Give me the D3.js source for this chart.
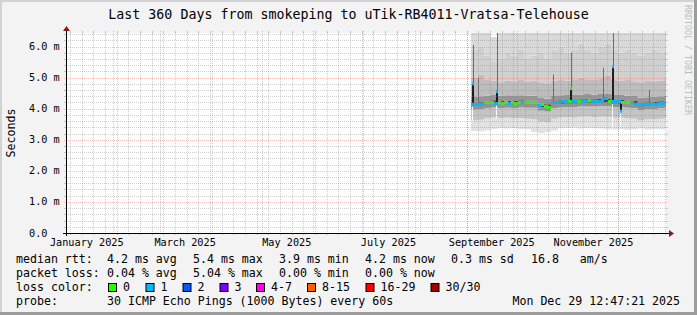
<!DOCTYPE html>
<html>
<head>
<meta charset="utf-8">
<script src="https://cdn.jsdelivr.net/npm/d3@7"></script>
<style>
  html, body { margin: 0; padding: 0; background: #f3f3f3; }
  svg { display: block; }
  text { font-family: "DejaVu Sans Mono", monospace; fill: #000; }
</style>
</head>
<body>
<div id="container"></div>
<script>

// ---- dados ----
var endTime = new Date(2025, 11, 29, 12, 47, 21)
var titleText = "Last 360 Days from smokeping to uTik-RB4011-Vratsa-Telehouse"
var yTicks = [0, 1, 2, 3, 4, 5, 6]
var xLabelMonths = [new Date(2025, 0, 1), new Date(2025, 2, 1), new Date(2025, 4, 1),
                    new Date(2025, 6, 1), new Date(2025, 8, 1), new Date(2025, 10, 1)]

// median rtt (ms), one value every 2 days starting Sep 3
var medianStart = new Date(2025, 8, 3, 14)
var medianMs = [4.14, 4.14, 4.15, 4.15, 4.19, 4.20, 4.21, 4.18, 4.19, 4.17,
                4.20, 4.18, 4.19, 4.18, 4.20, 4.21, 4.20, 4.20, 4.19, 4.20,
                4.10, 4.12, 4.08, 4.05, 4.19, 4.21, 4.21, 4.22, 4.22, 4.23,
                4.22, 4.23, 4.24, 4.23, 4.24, 4.25, 4.23, 4.24, 4.24, 4.25,
                4.33, 4.24, 4.22, 4.23, 4.22, 4.21, 4.20, 4.20, 4.19, 4.13,
                4.12, 4.13, 4.15, 4.14, 4.16, 4.15, 4.17, 4.18, 4.20]
// lost pings per sample (0 -> green, 1 -> light blue)
var medianLoss = [1, 1, 1, 1, 0, 0, 0, 1, 0, 0,
                  0, 1, 0, 0, 0, 1, 0, 0, 0, 0,
                  1, 0, 0, 0, 1, 1, 1, 1, 1, 0,
                  1, 1, 0, 1, 1, 0, 1, 1, 1, 1,
                  1, 0, 1, 1, 1, 0, 0, 0, 1, 1,
                  1, 1, 1, 1, 1, 1, 1, 1, 1]

// smoke: sorted ping values (ms) by rank, one column every 4 days starting Sep 3
var smokeStart = new Date(2025, 8, 3, 14)
var smokeRanks = [1, 3, 8, 13, 18, 23, 27, 29, 30]
var ping01 = [3.28, 3.27, 3.30, 3.35, 3.37, 3.36, 3.38, 3.35, 3.34, 3.25, 3.22, 3.24, 3.30, 3.37, 3.38,
              3.39, 3.36, 3.38, 3.37, 3.36, 3.34, 3.33, 3.35, 3.32, 3.34, 3.36, 3.33, 3.35, 3.34, 3.36]
var ping03 = [3.62, 3.64, 3.70, 3.72, 3.70, 3.71, 3.69, 3.70, 3.68, 3.66, 3.58, 3.56, 3.68, 3.72, 3.73,
              3.72, 3.74, 3.75, 3.73, 3.74, 3.74, 3.71, 3.72, 3.70, 3.68, 3.62, 3.66, 3.67, 3.68, 3.70]
var ping08 = [3.97, 3.98, 4.02, 4.04, 4.02, 4.03, 4.02, 4.04, 4.03, 4.03, 3.93, 3.91, 4.02, 4.04, 4.05,
              4.05, 4.07, 4.07, 4.07, 4.08, 4.08, 4.05, 4.05, 4.03, 4.02, 3.95, 3.98, 3.99, 4.01, 4.03]
var ping13 = [4.09, 4.10, 4.14, 4.16, 4.14, 4.15, 4.14, 4.16, 4.15, 4.15, 4.05, 4.03, 4.14, 4.16, 4.17,
              4.17, 4.19, 4.19, 4.19, 4.20, 4.20, 4.17, 4.17, 4.15, 4.14, 4.07, 4.10, 4.11, 4.13, 4.15]
var ping18 = [4.20, 4.21, 4.25, 4.27, 4.25, 4.26, 4.25, 4.27, 4.26, 4.26, 4.16, 4.14, 4.25, 4.27, 4.28,
              4.28, 4.30, 4.30, 4.30, 4.31, 4.31, 4.28, 4.28, 4.26, 4.25, 4.18, 4.21, 4.22, 4.24, 4.26]
var ping23 = [4.38, 4.40, 4.42, 4.44, 4.42, 4.43, 4.41, 4.43, 4.42, 4.42, 4.34, 4.32, 4.41, 4.43, 4.44,
              4.44, 4.46, 4.47, 4.46, 4.47, 4.47, 4.44, 4.44, 4.42, 4.41, 4.35, 4.37, 4.38, 4.40, 4.42]
var ping27 = [5.00, 5.10, 4.95, 4.90, 4.85, 4.90, 4.88, 4.92, 4.86, 4.90, 4.85, 4.82, 4.90, 4.95, 4.90,
              4.95, 5.00, 4.95, 4.92, 4.98, 5.05, 4.95, 4.90, 4.92, 4.88, 4.85, 4.90, 4.88, 4.90, 4.92]
var ping29 = [5.90, 6.00, 5.70, 5.50, 5.60, 5.80, 5.70, 5.90, 5.60, 5.70, 5.80, 5.60, 5.90, 6.00, 5.80,
              5.90, 6.10, 5.90, 5.80, 6.00, 6.10, 5.90, 5.80, 5.90, 5.80, 5.70, 5.80, 5.90, 5.80, 5.90]
var ping30 = [6.60, 6.60, 6.60, 6.30, 6.60, 6.60, 6.60, 6.60, 6.60, 6.60, 6.60, 6.60, 6.60, 6.60, 6.60,
              6.60, 6.60, 6.60, 6.60, 6.60, 6.60, 6.60, 6.60, 6.60, 6.60, 6.60, 6.60, 6.60, 6.60, 6.60]

// single-column outliers
var spikeDates = [new Date(2025, 8, 4, 10), new Date(2025, 8, 7, 2), new Date(2025, 8, 18, 12),
                  new Date(2025, 9, 21, 22), new Date(2025, 10, 1, 19), new Date(2025, 10, 21, 7),
                  new Date(2025, 10, 26, 22), new Date(2025, 11, 2, 5), new Date(2025, 11, 19, 0)]
var spikeTop    = [6.05, 5.00, 6.50, 5.10, 5.80, 5.32, 6.50, null, 4.60]
var spikeMedian = [4.80, null, 4.55, null, 4.65, null, 5.35, 3.92, null]
var spikeLoss   = [1, null, 1, null, 0, null, 1, 1, null]
var spikeGapLow = [3.60, null, 3.70, null, null, null, 3.35, 3.38, null]

// legenda
var lossLabels = ["0", "1", "2", "3", "4-7", "8-15", "16-29", "30/30"]
var lossColors = ["#26ff00", "#00b8ff", "#0059ff", "#7e00ff", "#ff00ea", "#ff5e00", "#ff0000", "#a10000"]
var statRtt  = ["4.2 ms avg", "5.4 ms max", "3.9 ms min", "4.2 ms now", "0.3 ms sd", "16.8   am/s"]
var statLoss = ["0.04 % avg", "5.04 % max", "0.00 % min", "0.00 % now"]
var probeText = "30 ICMP Echo Pings (1000 Bytes) every 60s"
var stampText = "Mon Dec 29 12:47:21 2025"

// ---- layout ----
var W = 697, H = 315
var x0 = 66, x1 = 666, y0 = 233, y1 = 33

var svg = d3.select("#container").append("svg")
  .attr("width", W).attr("height", H)

// fundo e moldura
svg.append("rect").attr("width", W).attr("height", H).attr("fill", "#f3f3f3")
svg.append("rect").attr("x", 0).attr("y", 0).attr("width", W).attr("height", 2).attr("fill", "#d2d2d2")
svg.append("rect").attr("x", 0).attr("y", 0).attr("width", 2).attr("height", H).attr("fill", "#d2d2d2")
svg.append("rect").attr("x", W - 3).attr("y", 0).attr("width", 3).attr("height", H).attr("fill", "#9c9c9c")
svg.append("rect").attr("x", 0).attr("y", H - 3).attr("width", W).attr("height", 3).attr("fill", "#9c9c9c")

// escalas
var xScale = d3.scaleTime()
  .domain([d3.timeDay.offset(endTime, -360), endTime])
  .range([x0, x1])

var yScale = d3.scaleLinear()
  .domain([0, (y0 - y1) / 31.08])
  .range([y0, y1])

svg.append("rect")
  .attr("x", x0).attr("y", y1).attr("width", x1 - x0).attr("height", y0 - y1)
  .attr("fill", "#ffffff")

svg.append("clipPath").attr("id", "plot-clip")
  .append("rect").attr("x", x0).attr("y", y1).attr("width", x1 - x0).attr("height", y0 - y1)

var plot = svg.append("g").attr("clip-path", "url(#plot-clip)")

// ---- smoke ----
var pingCols = [ping01, ping03, ping08, ping13, ping18, ping23, ping27, ping29, ping30]
// cinza de cada faixa, do mais baixo ao mais alto
var bandGreys = ["#e2e2e2", "#c4c4c4", "#939393", "#474747", "#969696", "#bdbdbd", "#d0d0d0", "#d9d9d9"]

var smokeRows = ping01.map(function(d, j) {
  return { date: d3.timeDay.offset(smokeStart, 4 * j), vals: pingCols.map(function(c) { return c[j] }) }
})
smokeRows.push({ date: d3.timeDay.offset(smokeStart, 4 * ping01.length), vals: smokeRows[smokeRows.length - 1].vals })

for (var k = 0; k < smokeRanks.length - 1; k++) {
  var area = d3.area()
    .curve(d3.curveStepAfter)
    .x(function(d) { return xScale(d.date) })
    .y0((function(kk) { return function(d) { return yScale(d.vals[kk]) } })(k))
    .y1((function(kk) { return function(d) { return yScale(d.vals[kk + 1]) } })(k))
  plot.append("path")
    .datum(smokeRows)
    .attr("d", area)
    .attr("fill", bandGreys[k])
}

// ---- outliers ----
function medianAt(dt) {
  var i = Math.floor((dt - medianStart) / (2 * 864e5))
  i = Math.max(0, Math.min(medianMs.length - 1, i))
  return medianMs[i]
}

spikeDates.forEach(function(dt, i) {
  var sx = Math.round(xScale(dt))
  var base = medianAt(dt)
  if (spikeTop[i] != null) {
    plot.append("rect")
      .attr("x", sx + 1).attr("width", 1)
      .attr("y", yScale(spikeTop[i])).attr("height", yScale(base) - yScale(spikeTop[i]))
      .attr("fill", "#6e6e6e")
  }
  if (spikeGapLow[i] != null) {
    var gTop = Math.min(base, spikeMedian[i] || base) - 0.08
    plot.append("rect")
      .attr("x", sx).attr("width", 1)
      .attr("y", yScale(gTop))
      .attr("height", yScale(spikeGapLow[i]) - yScale(gTop))
      .attr("fill", "#ffffff")
  }
  if (spikeMedian[i] != null) {
    var a = Math.max(base, spikeMedian[i]), b = Math.min(base, spikeMedian[i])
    plot.append("rect")
      .attr("x", sx).attr("width", 2)
      .attr("y", yScale(a)).attr("height", yScale(b) - yScale(a))
      .attr("fill", "#1c1c1c")
  }
})

// ---- median (blocos coloridos pela perda) ----
plot.selectAll(".median")
  .data(medianMs)
  .enter().append("rect")
  .attr("class", "median")
  .attr("x", function(d, i) { return xScale(d3.timeDay.offset(medianStart, 2 * i)) })
  .attr("width", function(d, i) {
    return xScale(d3.timeDay.offset(medianStart, 2 * i + 2)) - xScale(d3.timeDay.offset(medianStart, 2 * i))
  })
  .attr("y", function(d) { return yScale(d) - 1.5 })
  .attr("height", 3)
  .attr("fill", function(d, i) { return lossColors[medianLoss[i]] })
  .attr("shape-rendering", "crispEdges")

spikeDates.forEach(function(dt, i) {
  if (spikeMedian[i] == null) return
  plot.append("rect")
    .attr("x", Math.round(xScale(dt))).attr("width", 2)
    .attr("y", yScale(spikeMedian[i]) - 1.5).attr("height", 3)
    .attr("fill", lossColors[spikeLoss[i]])
})

// ---- grade ----
var minorCol = "rgba(128,128,128,0.38)", majorCol = "rgba(230,60,60,0.32)"
var grid = svg.append("g")
var minorY = d3.range(0, 6.45, 0.2).filter(function(v) { return Math.abs(v - Math.round(v)) > 0.01 })
grid.selectAll(".ygrid-minor").data(minorY).enter().append("line")
  .attr("x1", x0).attr("x2", x1)
  .attr("y1", function(d) { return Math.round(yScale(d)) + 0.5 })
  .attr("y2", function(d) { return Math.round(yScale(d)) + 0.5 })
  .attr("stroke", minorCol).attr("stroke-dasharray", "1,1")

var minorX = d3.timeMonday.range(xScale.domain()[0], endTime)
grid.selectAll(".xgrid-minor").data(minorX).enter().append("line")
  .attr("x1", function(d) { return Math.round(xScale(d)) + 0.5 })
  .attr("x2", function(d) { return Math.round(xScale(d)) + 0.5 })
  .attr("y1", y1).attr("y2", y0)
  .attr("stroke", minorCol).attr("stroke-dasharray", "1,1")

// marcas curtas nas bordas
minorX.forEach(function(d) {
  var gx = Math.round(xScale(d)) + 0.5
  grid.append("line").attr("x1", gx).attr("x2", gx).attr("y1", y1 - 2).attr("y2", y1 + 1).attr("stroke", "#c4c4c4")
  grid.append("line").attr("x1", gx).attr("x2", gx).attr("y1", y0).attr("y2", y0 + 2).attr("stroke", "#c4c4c4")
})
minorY.forEach(function(d) {
  var gy = Math.round(yScale(d)) + 0.5
  grid.append("line").attr("x1", x0 - 2).attr("x2", x0).attr("y1", gy).attr("y2", gy).attr("stroke", "#c4c4c4")
  grid.append("line").attr("x1", x1).attr("x2", x1 + 2).attr("y1", gy).attr("y2", gy).attr("stroke", "#c4c4c4")
})

var majorX = d3.timeMonth.range(xScale.domain()[0], endTime)
grid.selectAll(".xgrid-major").data(majorX).enter().append("line")
  .attr("x1", function(d) { return Math.round(xScale(d)) + 0.5 })
  .attr("x2", function(d) { return Math.round(xScale(d)) + 0.5 })
  .attr("y1", y1 - 2).attr("y2", y0 + 2)
  .attr("stroke", majorCol).attr("stroke-dasharray", "1,1")

grid.selectAll(".ygrid-major").data(yTicks.slice(1)).enter().append("line")
  .attr("x1", x0 - 2).attr("x2", x1 + 2)
  .attr("y1", function(d) { return Math.round(yScale(d)) + 0.5 })
  .attr("y2", function(d) { return Math.round(yScale(d)) + 0.5 })
  .attr("stroke", majorCol).attr("stroke-dasharray", "1,1")

// ---- eixos ----
svg.append("line").attr("x1", x0 - 3).attr("x2", x1 + 4).attr("y1", y0 + 0.5).attr("y2", y0 + 0.5)
  .attr("stroke", "#000")
svg.append("line").attr("x1", x0 + 0.5).attr("x2", x0 + 0.5).attr("y1", y0 + 3).attr("y2", y1 - 3)
  .attr("stroke", "#000")
svg.append("path").attr("d", "M" + (x1 + 3) + "," + (y0 - 3) + "L" + (x1 + 8) + "," + (y0 + 0.5) + "L" + (x1 + 3) + "," + (y0 + 4) + "Z")
  .attr("fill", "#8b1a1a")
svg.append("path").attr("d", "M" + (x0 - 3) + "," + (y1 - 2) + "L" + (x0 + 0.5) + "," + (y1 - 7) + "L" + (x0 + 4) + "," + (y1 - 2) + "Z")
  .attr("fill", "#8b1a1a")

// rótulos Y
svg.selectAll(".ylab").data(yTicks).enter().append("text")
  .attr("x", 29)
  .attr("y", function(d) { return yScale(d) + 3.5 })
  .attr("font-size", 10.2)
  .text(function(d) { return d === 0 ? "0.0" : d.toFixed(1) + " m" })

// rótulos X
var fmt = d3.timeFormat("%B %Y")
svg.selectAll(".xlab").data(xLabelMonths).enter().append("text")
  .attr("x", function(d) { return xScale(d3.timeDay.offset(d, 15)) })
  .attr("y", 245.5)
  .attr("text-anchor", "middle")
  .attr("font-size", 10.2)
  .text(function(d) { return fmt(d) })

// título
svg.append("text")
  .attr("x", 348.5).attr("y", 18.5)
  .attr("text-anchor", "middle")
  .attr("font-size", 13.3)
  .text(titleText)

// eixo vertical
svg.append("text")
  .attr("transform", "translate(15," + ((y0 + y1) / 2) + ") rotate(-90)")
  .attr("text-anchor", "middle")
  .attr("font-size", 11.6)
  .text("Seconds")

// marca d'água
svg.append("text")
  .attr("transform", "translate(685,5) rotate(90)")
  .attr("font-size", 8.3)
  .style("fill", "#bdbdbd")
  .text("RRDTOOL / TOBI OETIKER")

// ---- legenda ----
var legend = svg.append("g").attr("font-size", 11.6)
var statX = [107, 193, 279, 365, 451, 531]
legend.append("text").attr("x", 16).attr("y", 263).text("median rtt:")
statRtt.forEach(function(s, i) {
  legend.append("text").attr("x", statX[i]).attr("y", 263).style("white-space", "pre").text(s)
})
legend.append("text").attr("x", 16).attr("y", 277).text("packet loss:")
statLoss.forEach(function(s, i) {
  legend.append("text").attr("x", statX[i]).attr("y", 277).text(s)
})
legend.append("text").attr("x", 16).attr("y", 291).text("loss color:")
var boxX = [108, 145.5, 182.5, 219.5, 256, 307, 365.5, 430.5]
lossLabels.forEach(function(s, i) {
  legend.append("rect")
    .attr("x", boxX[i] + 0.5).attr("y", 283.5).attr("width", 8).attr("height", 8)
    .attr("fill", lossColors[i]).attr("stroke", "#000").attr("stroke-width", 1)
  legend.append("text").attr("x", boxX[i] + 15).attr("y", 291).text(s)
})
legend.append("text").attr("x", 16).attr("y", 305).text("probe:")
legend.append("text").attr("x", 107).attr("y", 305).text(probeText)
legend.append("text").attr("x", 680).attr("y", 305).attr("text-anchor", "end").text(stampText)

</script>
</body>
</html>
